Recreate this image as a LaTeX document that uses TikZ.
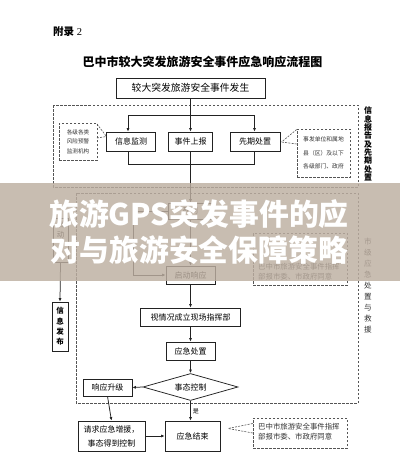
\documentclass[tikz,border=0pt]{standalone}
\usepackage{fontspec}
\setmainfont{Liberation Serif}
\newfontfamily\hei{Noto Sans CJK SC}
\usetikzlibrary{shapes.geometric,arrows.meta}
\definecolor{lnc}{HTML}{222222}
\definecolor{dshc}{HTML}{555555}
\definecolor{txc}{HTML}{333333}
\definecolor{bandc}{RGB}{189,175,161}
\tikzset{
  box/.style={draw=lnc, line width=0.75pt, inner sep=0pt, font=\hei\fontsize{8}{9.5}\selectfont, align=center, text=black},
  dbox/.style={draw=dshc, line width=0.6pt, dash pattern=on 2.5pt off 1.5pt, inner sep=0pt},
  dline/.style={draw=dshc, line width=0.6pt, dash pattern=on 2pt off 1.2pt},
  wire/.style={draw=lnc, line width=0.75pt},
  arr/.style={draw=lnc, line width=0.75pt, -{Latex[length=3.5pt,width=3pt]}},
  tinytext/.style={font=\hei\fontsize{5.6}{9.5}\selectfont, text=txc, align=center},
  notetext/.style={font=\hei\fontsize{7.4}{10}\selectfont, text=txc, align=left, inner sep=0pt},
  vlabel/.style={font=\hei\bfseries\fontsize{8}{8.3}\selectfont, align=center, inner sep=0pt},
  vlabelb/.style={font=\hei\fontsize{7.6}{10.9}\selectfont, align=center, inner sep=0pt, text=txc},
  banner/.style={font=\hei\bfseries\fontsize{29.8}{36}\selectfont, text=white, inner sep=0pt}
}
\begin{document}
\begin{tikzpicture}[x=1pt,y=-1pt]
\useasboundingbox (0,0) rectangle (400,464);
\fill[white] (0,0) rectangle (400,464);

% header
\node[anchor=west, inner sep=0pt, font=\fontsize{10.5}{12}\selectfont] (fl) at (53,32) {{\hei\bfseries 附录} 2};
\node[inner sep=0pt, font=\hei\bfseries\fontsize{12}{14}\selectfont] (title) at (202.5,62) {巴中市较大突发旅游安全事件应急响应流程图};

% region boxes
\draw[dbox] (53,105) rectangle (358,187);
\draw[dbox] (76,193) rectangle (358,403);

% top part
\node[box, font=\hei\fontsize{9.8}{11}\selectfont, minimum width=149pt, minimum height=20pt] (n0) at (190.5,88) {较大突发旅游安全事件发生};
\node[box, minimum width=49pt, minimum height=19pt] (b1) at (131,141.5) {信息监测};
\node[box, minimum width=44pt, minimum height=19pt] (b2) at (190.5,141.5) {事件上报};
\node[box, minimum width=50pt, minimum height=19pt] (b3) at (255,141.5) {先期处置};

\coordinate (jl) at (128,115);
\coordinate (jc) at (190.5,115);
\coordinate (jr) at (254.5,115);
\draw[wire] (n0.south) -- (jc);
\draw[wire] (jl) -- (jr);
\draw[arr] (jl) -- (jl |- b1.north);
\draw[arr] (jc) -- (b2.north);
\draw[arr] (jr) -- (jr |- b3.north);
\coordinate (kl) at (128,164);
\coordinate (kr) at (254.5,164);
\draw[wire] (kl |- b1.south) -- (kl) -- (kr) -- (kr |- b3.south);

% callouts top
\node[dbox, tinytext, minimum width=38pt, minimum height=37pt] (c1n) at (78,141.5) {各级各类\\风险预警\\监测机构};
\coordinate (p1) at (106.5,136.5);
\draw[dline] (97,124) -- (p1);
\draw[dline] (97,138) -- (p1);
\node[dbox, tinytext, font=\hei\fontsize{5.8}{13.5}\selectfont, minimum width=53pt, minimum height=48pt] (c2n) at (323.5,153) {事发单位和属地\\县（区）及以下\\各级部门、政府};
\coordinate (p2) at (281.5,142);
\draw[dline] (c2n.west |- 0,129.5) -- (p2);
\draw[dline] (c2n.west |- 0,144) -- (p2);

\node[vlabel] (v1) at (368,144) {信\\息\\报\\告\\及\\先\\期\\处\\置};
\node[vlabelb] (v2) at (368,285.5) {市\\级\\应\\急\\处\\置\\与\\救\\援};

% middle (under band)
\node[box, font=\hei\fontsize{7.5}{9}\selectfont, minimum width=44pt, minimum height=16pt] (yp) at (190.5,211) {研判};
\node[box, minimum width=49pt, minimum height=18pt] (qd) at (190.5,275) {启动响应};
\draw[arr] (b2.south) -- (yp.north);
\draw[arr] (yp.south) -- (qd.north);
\coordinate (lp1) at (133,211);
\coordinate (lp2) at (133,275);
\draw[wire] (yp.west) -- (lp1) -- (lp2);
\draw[arr] (lp2) -- (qd.west);
\node[dbox, minimum width=94pt, minimum height=52pt] (ca) at (300,259) {};
\node[notetext, anchor=west] (cat) at (258,272) {巴中市旅游安全事件指挥\\部报市委、市政府同意};
\node[box, font=\hei\fontsize{7.5}{10.4}\selectfont, minimum width=15pt, minimum height=44pt] (qs) at (60.5,240) {启\\动\\\\};
\node[box, font=\hei\bfseries\fontsize{7.5}{10.4}\selectfont, minimum width=16pt, minimum height=49pt] (xf) at (60,326.5) {信\\息\\发\\布};
\draw[arr] (qs.south) -- (xf.north);

% band
\fill[bandc, opacity=0.82] (0,183) rectangle (400,281);
\node[banner] (t1) at (199,214) {旅游GPS突发事件的应};
\node[banner] (t2) at (199,250) {对与旅游安全保障策略};

% lower part
\node[box, minimum width=100pt, minimum height=18pt] (s1) at (190.5,317) {视情况成立现场指挥部};
\node[box, minimum width=49pt, minimum height=18pt] (s2) at (190.5,351) {应急处置};
\node[box, diamond, aspect=3.5, minimum width=95pt, minimum height=27pt] (dm) at (190.5,387) {事态控制};
\node[box, minimum width=49pt, minimum height=17pt] (s3) at (107.5,387.5) {响应升级};
\node[box, font=\hei\fontsize{8}{14}\selectfont, minimum width=67pt, minimum height=30pt] (s4) at (111.5,436) {请求应急增援，\\事态得到控制};
\node[box, minimum width=55pt, minimum height=30pt] (s5) at (192.5,436) {应急结束};
\draw[arr] (qd.south) -- (s1.north);
\draw[arr] (s1.south) -- (s2.north);
\draw[arr] (s2.south) -- (dm.north);
\draw[arr] (dm.west) -- (s3.east);
\draw[arr] (s3.south) -- (s4.north);
\draw[arr] (s4.east) -- (s5.west);
\draw[arr] (dm.south) -- node[pos=0.55, right=2pt, inner sep=0pt, font=\hei\fontsize{6}{7}\selectfont] (yes) {是} (dm.south |- s5.north);

\node[dbox, minimum width=94pt, minimum height=30pt] (cb) at (300,433) {};
\node[notetext, anchor=west] (cbt) at (258,432) {巴中市旅游安全事件指挥\\部报市委、市政府同意};
\coordinate (p3) at (228,428.5);
\draw[dline] (cb.west |- 0,423.5) -- (p3);
\draw[dline] (cb.west |- 0,433) -- (p3);
\end{tikzpicture}
\end{document}
